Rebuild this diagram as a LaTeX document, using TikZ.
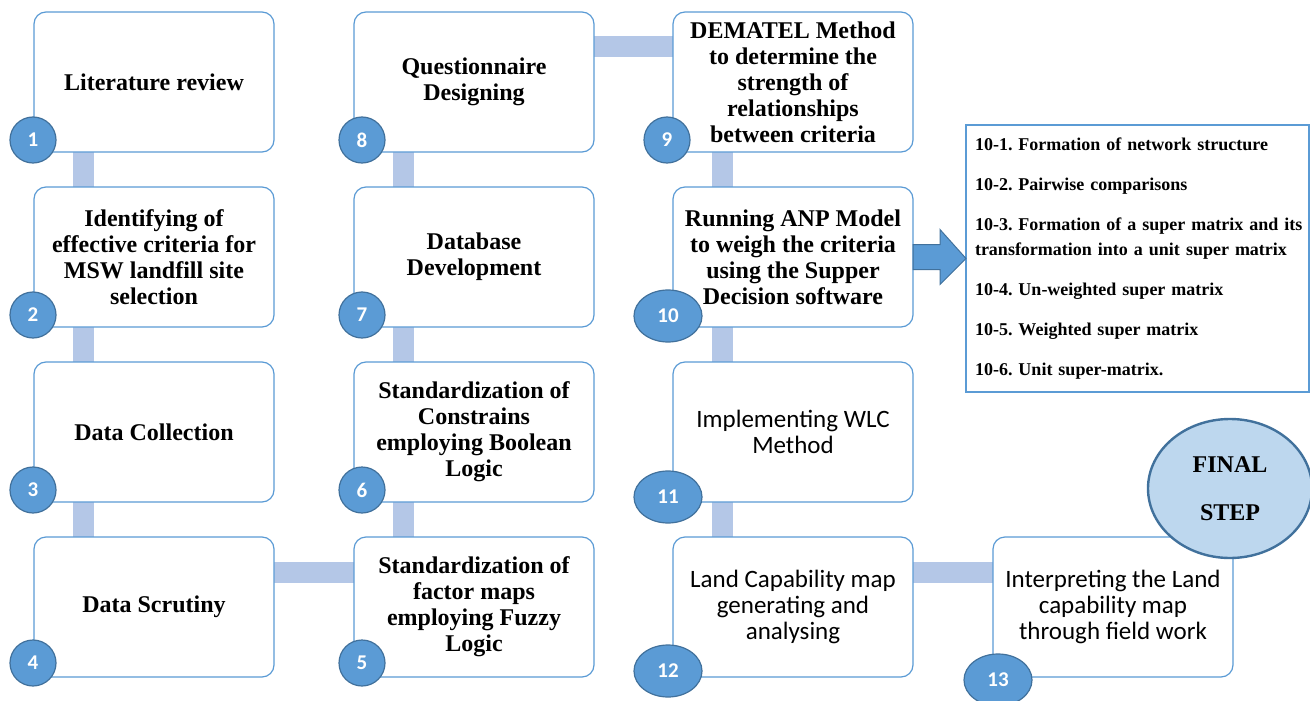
\documentclass[tikz,border=0pt]{standalone}
\usepackage{fontspec}
\setmainfont{Liberation Serif}
\newfontfamily\calibri{Carlito}
\usepackage{xcolor}
\usetikzlibrary{positioning, shapes.geometric, backgrounds}

\definecolor{boxblue}{HTML}{5B9BD5}
\definecolor{numblue}{HTML}{5B9BD5}
\definecolor{numline}{HTML}{41719C}
\definecolor{barblue}{HTML}{B4C7E7}
\definecolor{finalfill}{HTML}{BDD7EE}

\tikzset{
  stepbox/.style={draw=boxblue, line width=1.2pt, fill=white, rounded corners=12pt,
    minimum width=240pt, minimum height=140pt, inner sep=2pt, outer sep=0pt, align=center,
    font=\fontsize{24pt}{26pt}\selectfont\bfseries},
  calibox/.style={stepbox, font=\fontsize{25pt}{26pt}\selectfont\calibri},
  numdot/.style={circle, draw=numline, line width=1.2pt, fill=numblue, minimum size=46pt,
    inner sep=0pt, text=white, font=\fontsize{21pt}{21pt}\selectfont\calibri\bfseries},
  numoval/.style={numdot, ellipse, minimum width=68pt, minimum height=52pt},
  link/.style={barblue, line width=21pt},
}

\begin{document}
\frenchspacing
\begin{tikzpicture}[node distance=35pt and 80pt]
	\useasboundingbox (0,0) rectangle (1310pt,-701pt);
	
	% first column
	\node[stepbox, anchor=north west] (step 1) at (34pt,-12pt) {Literature review};
	\node[stepbox, below=of step 1] (step 2) {Identifying of\\effective criteria for\\MSW landfill site\\selection};
	\node[stepbox, below=of step 2] (step 3) {Data Collection};
	\node[stepbox, below=of step 3] (step 4) {Data Scrutiny};
	
	% second column, upwards
	\node[stepbox, right=80pt of step 4] (step 5) {Standardization of\\factor maps\\employing Fuzzy\\Logic};
	\node[stepbox, above=of step 5] (step 6) {Standardization of\\Constrains\\employing Boolean\\Logic};
	\node[stepbox, above=of step 6] (step 7) {Database\\Development};
	\node[stepbox, above=of step 7] (step 8) {Questionnaire\\Designing};
	
	% third column
	\node[stepbox, right=79pt of step 8] (step 9) {DEMATEL Method\\to determine the\\strength of\\relationships\\between criteria};
	\node[stepbox, below=of step 9] (step 10) {Running ANP Model\\to weigh the criteria\\using the Supper\\Decision software};
	\node[calibox, below=of step 10] (step 11) {Implementing WLC\\Method};
	\node[calibox, below=of step 11] (step 12) {Land Capability map\\generating and\\analysing};
	\node[calibox, right=80pt of step 12] (step 13) {Interpreting the Land\\capability map\\through field work};
	
	%---------
	\node[draw=boxblue, line width=1.2pt, fill=white, minimum width=343pt, minimum height=267pt, outer sep=0pt,
	  text width=325pt, inner xsep=9pt, align=left, font=\fontsize{18pt}{25pt}\selectfont\bfseries,
	  right=53pt of step 10, yshift=-1.5pt] (substeps) {10-1. Formation of network structure\\[15pt]10-2. Pairwise comparisons\\[15pt]\mbox{10-3. Formation of a super matrix and its}\\\mbox{transformation into a unit super matrix}\\[15pt]10-4. Un-weighted super matrix\\[15pt]10-5. Weighted super matrix\\[15pt]10-6. Unit super-matrix.};
	
	\filldraw[fill=numblue, draw=numline, line width=1pt] ([yshift=12.5pt]step 10.east)--([shift={(27pt,12.5pt)}]step 10.east)--([shift={(27pt,27.5pt)}]step 10.east)--(substeps.west)--([shift={(27pt,-27.5pt)}]step 10.east)--([shift={(27pt,-12.5pt)}]step 10.east)--([yshift=-12.5pt]step 10.east)--cycle;
	
	% numbers
	\node[numdot] (num 1) at ([shift={(-1pt,12pt)}]step 1.south west) {1};
	\node[numdot] (num 2) at ([shift={(-1pt,12pt)}]step 2.south west) {2};
	\node[numdot] (num 3) at ([shift={(-1pt,12pt)}]step 3.south west) {3};
	\node[numdot] (num 4) at ([shift={(-1pt,14pt)}]step 4.south west) {4};
	\node[numdot] (num 5) at ([shift={(8pt,14pt)}]step 5.south west) {5};
	\node[numdot] (num 6) at ([shift={(8pt,12pt)}]step 6.south west) {6};
	\node[numdot] (num 7) at ([shift={(8pt,12pt)}]step 7.south west) {7};
	\node[numdot] (num 8) at ([shift={(8pt,12pt)}]step 8.south west) {8};
	\node[numdot] (num 9) at ([shift={(-6pt,12pt)}]step 9.south west) {9};
	\node[numoval] (num 10) at ([shift={(-5pt,11pt)}]step 10.south west) {10};
	\node[numoval] (num 11) at ([shift={(-5pt,5pt)}]step 11.south west) {11};
	\node[numoval] (num 12) at ([shift={(-5pt,6pt)}]step 12.south west) {12};
	\node[numoval] (num 13) at ([shift={(5pt,-3pt)}]step 13.south west) {13};
	
	\node[ellipse, draw=numline, line width=2.4pt, fill=finalfill, minimum width=164pt, minimum height=139pt,
	  align=center, font=\fontsize{24pt}{48pt}\selectfont\bfseries] (final) at ([shift={(-3pt,48.5pt)}]step 13.north east) {FINAL\\STEP};
	
	\begin{scope}[on background layer]
		\draw[link] ([xshift=49pt]step 1.south west)--([xshift=49pt]step 2.north west);
		\draw[link] ([xshift=49pt]step 2.south west)--([xshift=49pt]step 3.north west);
		\draw[link] ([xshift=49pt]step 3.south west)--([xshift=49pt]step 4.north west);
		\draw[link] ([yshift=-35pt]step 4.north east)--([yshift=-35pt]step 5.north west);
		\draw[link] ([xshift=49pt]step 5.north west)--([xshift=49pt]step 6.south west);
		\draw[link] ([xshift=49pt]step 6.north west)--([xshift=49pt]step 7.south west);
		\draw[link] ([xshift=49pt]step 7.north west)--([xshift=49pt]step 8.south west);
		\draw[link] ([yshift=-35pt]step 8.north east)--([yshift=-35pt]step 9.north west);
		\draw[link] ([xshift=49pt]step 9.south west)--([xshift=49pt]step 10.north west);
		\draw[link] ([xshift=49pt]step 10.south west)--([xshift=49pt]step 11.north west);
		\draw[link] ([xshift=49pt]step 11.south west)--([xshift=49pt]step 12.north west);
		\draw[link] ([yshift=-35pt]step 12.north east)--([yshift=-35pt]step 13.north west);
	\end{scope}
\end{tikzpicture}
\end{document}
